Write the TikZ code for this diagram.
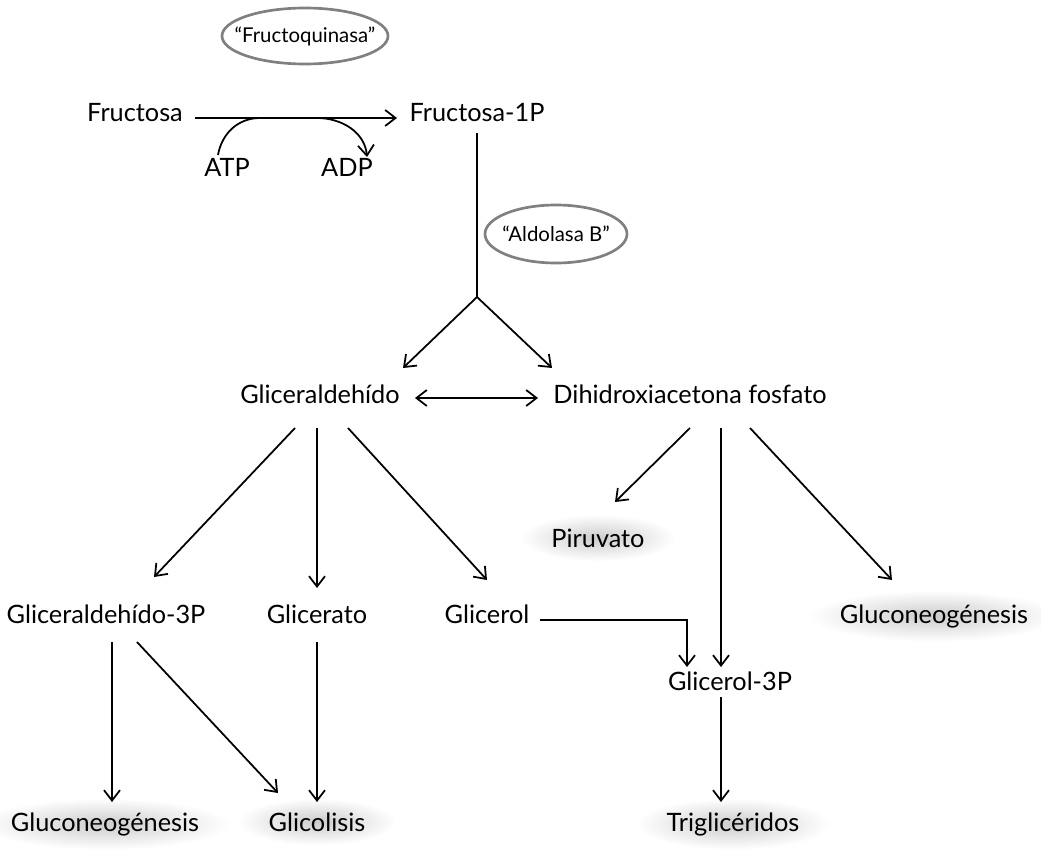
\documentclass[tikz,border=0pt]{standalone}
\usepackage{fontspec}
\setmainfont{Lato}
\usetikzlibrary{arrows.meta,positioning,shapes,calc}

\begin{document}
\begin{tikzpicture}[
		>={Straight Barb[length=2.6mm,width=4mm]},
		every node/.style={font=\fontsize{18}{21}\selectfont},
		met/.style={
			anchor=base,
			inner sep=0pt
		},
		fin/.style={
			anchor=base,
			inner xsep=22pt,
			inner ysep=10pt,
			shading=radial,
			inner color=black!20,
			outer color=white
		},
		enzyme/.style={
			ellipse,
			draw=black!50,
			line width=1.9pt,
			inner xsep=-0.8cm,
			inner ysep=-0.3cm,
			font=\fontsize{14.5}{16}\selectfont
		},
		flow/.style={
			->,
			line width=1.25pt
		}
		]
		\useasboundingbox (0,0) rectangle (26.025,-21.275);
		% first step
		\node[enzyme,minimum width=4.15cm,minimum height=1.4cm] (fq) at (7.625,-0.9) {“Fructoquinasa”};
		\node[met] (fru) at (3.375,-3.025) {Fructosa};
		\node[met] (f1p) at (11.925,-3.025) {Fructosa-1P};
		\node[met] (atp) at (5.675,-4.4) {ATP};
		\node[met] (adp) at (8.675,-4.4) {ADP};
		\coordinate (c1) at (6.5,-2.95);
		\coordinate (c2) at (7.925,-2.95);
		\draw[flow] ([shift={(1.5,0.075)}]fru.base) -- ([shift={(-2.0,0.075)}]f1p.base);
		\draw[line width=1.25pt] ([shift={(-0.225,0.525)}]atp.base) to[out=80,in=180] (c1);
		\draw[flow] (c2) to[out=0,in=95] ([shift={(0.5,0.475)}]adp.base);
		% splitting
		\node[enzyme,minimum width=3.55cm,minimum height=1.45cm] (ab) at (13.9,-5.85) {“Aldolasa B”};
		\coordinate (jn) at (11.925,-7.425);
		\node[met] (gal) at (8.0,-10.075) {Gliceraldehído};
		\node[met] (dhap) at (17.25,-10.075) {Dihidroxiacetona fosfato};
		\draw[line width=1.25pt] ([shift={(0,-0.3)}]f1p.base) -- (jn);
		\draw[flow] (jn) -- ([shift={(2.075,0.875)}]gal.base);
		\draw[flow] (jn) -- ([shift={(-3.45,0.875)}]dhap.base);
		\draw[flow,<->] ([shift={(2.375,0.125)}]gal.base) -- ([shift={(-3.8,0.125)}]dhap.base);
		% products
		\node[fin] (pir) at (14.95,-13.675) {Piruvato};
		\node[met] (g3p) at (2.65,-15.575) {Gliceraldehído-3P};
		\node[met] (glt) at (7.925,-15.575) {Glicerato};
		\node[met] (gol) at (12.175,-15.575) {Glicerol};
		\node[fin] (gng) at (23.35,-15.575) {Gluconeogénesis};
		\node[met] (gol3) at (18.25,-17.25) {Glicerol-3P};
		\node[fin] (tg) at (18.325,-20.775) {Triglicéridos};
		\node[fin] (gng2) at (2.625,-20.775) {Gluconeogénesis};
		\node[fin] (gly) at (7.925,-20.775) {Glicolisis};
		\draw[flow] ([shift={(-0.625,-0.625)}]gal.base) -- ([shift={(1.2,1.15)}]g3p.base);
		\draw[flow] ([shift={(-0.075,-0.625)}]gal.base) -- ([shift={(0,0.875)}]glt.base);
		\draw[flow] ([shift={(0.7,-0.625)}]gal.base) -- ([shift={(0,1.075)}]gol.base);
		\draw[flow] ([shift={(0,-0.625)}]dhap.base) -- ([shift={(0.425,1.125)}]pir.base);
		\draw[flow] ([shift={(0.775,-0.625)}]dhap.base) -- ([shift={(-0.225,0.575)}]gol3.base);
		\draw[flow] ([shift={(1.5,-0.625)}]dhap.base) -- ([shift={(-1.05,1.075)}]gng.base);
		\draw[flow] ([shift={(1.325,0.075)}]gol.base) -| ([shift={(-1.075,0.575)}]gol3.base);
		\draw[flow] ([shift={(-0.225,-0.175)}]gol3.base) -- ([shift={(-0.3,0.725)}]tg.base);
		\draw[flow] ([shift={(0.15,-0.475)}]g3p.base) -- ([shift={(0.175,0.725)}]gng2.base);
		\draw[flow] ([shift={(0.775,-0.475)}]g3p.base) -- ([shift={(-0.975,0.95)}]gly.base);
		\draw[flow] ([shift={(0,-0.475)}]glt.base) -- ([shift={(0,0.725)}]gly.base);
		\end{tikzpicture}
\end{document}
